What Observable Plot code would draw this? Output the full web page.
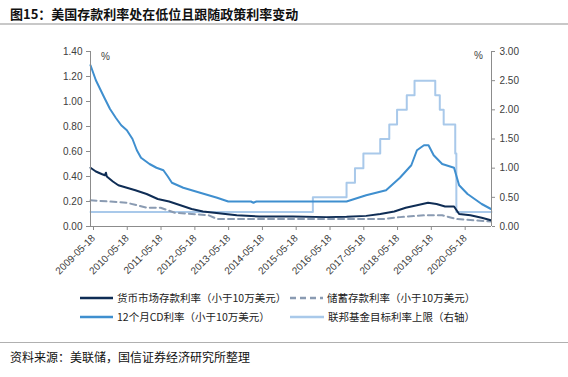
<!DOCTYPE html>
<html><head><meta charset="utf-8">
<script src="https://cdn.jsdelivr.net/npm/d3@7"></script>
<script src="https://cdn.jsdelivr.net/npm/@observablehq/plot@0.6"></script>
<style>
body{margin:0;width:568px;height:377px;position:relative;background:#fff;overflow:hidden;font-family:"Liberation Sans",Arial,sans-serif}
#title{position:absolute;left:10px;top:4px;font:bold 13px "Noto Sans CJK SC";color:#111;white-space:nowrap}
#tline{position:absolute;left:0;top:23px;width:568px;height:2px;background:#c8c8c8}
#chart{position:absolute;left:0;top:30px}
.pct{position:absolute;font:10px "Liberation Sans",Arial;color:#404040}
.leg{position:absolute;font:10.5px "Noto Sans CJK SC";color:#222;white-space:nowrap;display:flex;align-items:center}
.leg svg{margin-right:4px}
#cline{position:absolute;left:0;top:342px;width:568px;height:1px;background:#b0b0b0}
#cap{position:absolute;left:10px;top:348px;font:12px "Noto Sans CJK SC";color:#111;white-space:nowrap}
</style></head><body>
<div id="title">图15：美国存款利率处在低位且跟随政策利率变动</div>
<div id="tline"></div>
<div id="chart"></div>
<div class="pct" style="left:101px;top:51px">%</div>
<div class="pct" style="left:474px;top:50px">%</div>
<div id="legend"></div>
<div id="cline"></div>
<div id="cap">资料来源：美联储，国信证券经济研究所整理</div>
<script>
// ---- data ----
const mmDates = ["2009-05-18","2009-07-15","2009-09-15","2009-10-20","2009-11-01","2009-11-10","2010-01-15","2010-03-15","2010-06-15","2010-09-15","2011-01-15","2011-05-15","2011-09-15","2012-01-15","2012-05-15","2012-09-15","2013-01-15","2013-05-15","2013-09-15","2014-05-15","2015-05-15","2016-05-15","2016-12-15","2017-07-15","2017-12-15","2018-05-15","2018-09-15","2019-01-15","2019-05-15","2019-08-15","2019-11-15","2020-02-20","2020-04-15","2020-08-15","2020-12-15","2021-03-25"];
const mmValues = [0.47,0.44,0.42,0.41,0.43,0.40,0.36,0.33,0.31,0.29,0.26,0.22,0.20,0.17,0.14,0.12,0.11,0.10,0.09,0.08,0.08,0.075,0.078,0.085,0.10,0.12,0.15,0.17,0.19,0.18,0.16,0.16,0.10,0.09,0.07,0.05];

const savDates = ["2009-05-18","2010-06-15","2011-01-15","2011-06-15","2011-11-15","2012-11-15","2013-02-15","2014-06-15","2016-06-15","2018-01-15","2018-07-15","2019-04-15","2019-10-15","2020-03-15","2021-03-25"];
const savValues = [0.21,0.19,0.15,0.15,0.11,0.09,0.06,0.06,0.06,0.06,0.075,0.09,0.09,0.06,0.04];

const cdDates = ["2009-05-18","2009-07-15","2009-10-15","2009-12-15","2010-02-15","2010-04-15","2010-06-15","2010-08-15","2010-10-01","2010-11-15","2011-02-15","2011-05-01","2011-07-15","2011-09-01","2011-10-15","2012-02-15","2012-08-15","2013-02-15","2013-06-15","2014-02-15","2014-03-15","2014-04-15","2015-06-15","2016-12-15","2017-07-15","2018-02-15","2018-07-15","2018-11-15","2019-01-15","2019-04-01","2019-05-20","2019-07-15","2019-10-15","2020-02-20","2020-04-15","2020-07-15","2020-12-15","2021-03-25"];
const cdValues = [1.29,1.17,1.03,0.94,0.87,0.81,0.77,0.70,0.61,0.55,0.50,0.47,0.45,0.40,0.35,0.31,0.27,0.23,0.20,0.20,0.19,0.20,0.20,0.20,0.25,0.29,0.39,0.49,0.61,0.65,0.65,0.57,0.50,0.47,0.33,0.26,0.18,0.14];

const fedDates = ["2009-05-18","2015-12-17","2016-12-15","2017-03-16","2017-06-15","2017-12-14","2018-03-22","2018-06-14","2018-09-27","2018-12-20","2019-08-01","2019-09-19","2019-10-31","2020-03-04","2020-03-16","2021-03-31"];
const fedValues = [0.25,0.50,0.75,1.00,1.25,1.50,1.75,2.00,2.25,2.50,2.25,2.00,1.75,1.25,0.25,0.25];

const leftTicks = [0,0.2,0.4,0.6,0.8,1.0,1.2,1.4];
const rightTicks = [0,0.5,1.0,1.5,2.0,2.5,3.0];
const xTickLabels = ["2009-05-18","2010-05-18","2011-05-18","2012-05-18","2013-05-18","2014-05-18","2015-05-18","2016-05-18","2017-05-18","2018-05-18","2019-05-18","2020-05-18"];
const xDomain = ["2009-05-18","2021-03-31"];

const seriesNames = ["货币市场存款利率（小于10万美元）","储蓄存款利率（小于10万美元）","12个月CD利率（小于10万美元）","联邦基金目标利率上限（右轴）"];
const colors = ["#0f2d55","#8a9bb2","#3f8fcf","#a9c9ea"];

// ---- build ----
const k = 1.4/3;
const mk = (ds, vs) => ds.map((d,i)=>({date:new Date(d), value:vs[i]}));
const mm = mk(mmDates, mmValues), sav = mk(savDates, savValues), cd = mk(cdDates, cdValues), fed = mk(fedDates, fedValues);
const x0 = new Date(xDomain[0]), x1 = new Date(xDomain[1]);
const axisColor = "#8c8c8c";

const chart = Plot.plot({
  width:568, height:260,
  marginLeft:90, marginRight:77, marginTop:21, marginBottom:64,
  x:{type:"utc", domain:[x0,x1]},
  y:{domain:[0,1.4]},
  style:{fontFamily:"Liberation Sans, Arial, sans-serif", fontSize:"10px", color:"#404040", background:"transparent"},
  marks:[
    Plot.line(fed, {x:"date", y:d=>d.value*k, curve:"step-after", stroke:colors[3], strokeWidth:2}),
    Plot.line(sav, {x:"date", y:"value", stroke:colors[1], strokeWidth:2, strokeDasharray:"6,4"}),
    Plot.line(cd, {x:"date", y:"value", stroke:colors[2], strokeWidth:2}),
    Plot.line(mm, {x:"date", y:"value", stroke:colors[0], strokeWidth:2}),
    Plot.ruleY([0], {stroke:axisColor}),
    Plot.ruleX([x0], {stroke:axisColor}),
    Plot.ruleX([x1], {stroke:axisColor}),
    Plot.axisY({anchor:"left", ticks:leftTicks, tickFormat:d=>d.toFixed(2), tickSize:4, tickPadding:4, stroke:axisColor, label:null}),
    Plot.axisY({anchor:"right", ticks:rightTicks.map(v=>v*k), tickFormat:d=>(d/k).toFixed(2), tickSize:3, tickPadding:5, stroke:axisColor, label:null}),
    Plot.axisX({ticks:xTickLabels.map(s=>new Date(s)), tickFormat:d3.utcFormat("%Y-%m-%d"), tickRotate:-45, tickSize:4, tickPadding:6, dx:3, stroke:axisColor, label:null})
  ]
});
document.getElementById("chart").appendChild(chart);

// legend
const legPos = [[80,290],[290,290],[80,309],[290,309]];
const leg = document.getElementById("legend");
seriesNames.forEach((name,i)=>{
  const el = document.createElement("div");
  el.className = "leg";
  el.style.left = legPos[i][0]+"px";
  el.style.top = legPos[i][1]+"px";
  const w = i===3 ? 34 : 33;
  const dash = i===1 ? ' stroke-dasharray="6,4"' : '';
  el.innerHTML = `<svg width="${w}" height="6"><line x1="0" x2="${w}" y1="3" y2="3" stroke="${colors[i]}" stroke-width="2.5"${dash}/></svg><span>${name}</span>`;
  leg.appendChild(el);
});
</script>
</body></html>
